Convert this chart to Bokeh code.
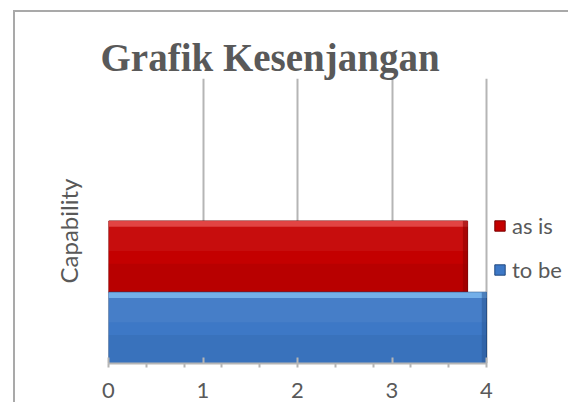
from bokeh.plotting import figure
from bokeh.models import Range1d, FixedTicker, Legend, LegendItem, Title
from bokeh.embed import file_html
from bokeh.resources import INLINE

# ---- data ----
series = ["as is", "to be"]
values = [3.8, 4.0]
positions = [1.5, 0.5]          # bar slots (as is above, to be below)
fills = ["#C40000", "#3D78C6"]
edges = ["#7A0000", "#21497F"]
lights = ["#E8504F", "#7DB8EE"]
darks = ["#8E0000", "#2C5A98"]
major_ticks = [0, 1, 2, 3, 4]
minor_ticks = [0, 0.4, 0.8, 1.2, 1.6, 2.0, 2.4, 2.8, 3.2, 3.6, 4.0]
title_text = "Grafik Kesenjangan"
y_title = "Capability"

TXT = "#595959"
GRID = "#b5b5b5"

# frame: 0..4 spans 378 px; frame continues to the right to host the legend
W, LEFT = 555, 93
FRAME_W = W - LEFT
x_end = 4 * FRAME_W / 378.0

p = figure(width=W, height=392, output_backend="svg", toolbar_location=None,
           x_range=Range1d(0, x_end), y_range=Range1d(0, 4),
           y_axis_location=None,
           min_border_left=LEFT, min_border_right=0, min_border_top=66,
           min_border_bottom=41)
p.margin = (10, 0, 0, 13)
p.styles = {"border-left": "2px solid #a9a9a9", "border-top": "2px solid #a9a9a9"}
p.outline_line_color = None
p.background_fill_color = "white"
p.border_fill_color = "white"

t = Title(text=title_text, text_font="Liberation Serif", text_font_style="bold",
          text_font_size="39px", text_color=TXT, align="left", offset=-8,
          standoff=0)
p.add_layout(t, "above")

yt = Title(text=y_title, text_font="Lato", text_font_style="normal",
           text_font_size="24px", text_color=TXT, align="left", offset=80,
           standoff=51)
p.add_layout(yt, "left")

# bars
renderers = []
for i, s in enumerate(series):
    r = p.hbar(y=[positions[i]], left=[0], right=[values[i]], height=1.0,
               fill_color=fills[i], line_color=edges[i], line_width=1)
    renderers.append(r)
    # bevel: lighter top strip, darker bottom strip and right edge
    p.hbar(y=[positions[i] + 0.46], left=[0], right=[values[i]], height=0.08,
           fill_color=lights[i], fill_alpha=0.85, line_color=None)
    p.hbar(y=[positions[i] + 0.25], left=[0], right=[values[i]], height=0.34,
           fill_color="white", fill_alpha=0.05, line_color=None)
    p.hbar(y=[positions[i] - 0.3], left=[0], right=[values[i]], height=0.4,
           fill_color=darks[i], fill_alpha=0.2, line_color=None)
    p.hbar(y=[positions[i]], left=[values[i] - 0.05], right=[values[i]], height=1.0,
           fill_color=darks[i], fill_alpha=0.55, line_color=None)

# x axis
xa = p.xaxis[0]
xa.ticker = FixedTicker(ticks=major_ticks, minor_ticks=minor_ticks)
xa.bounds = (0, 4)
xa.axis_line_color = GRID
xa.axis_line_width = 2
xa.major_tick_line_color = GRID
xa.major_tick_line_width = 2
xa.major_tick_in = 6
xa.major_tick_out = 0
xa.minor_tick_line_color = GRID
xa.minor_tick_line_width = 2
xa.minor_tick_in = 0
xa.minor_tick_out = 4
xa.major_label_text_font = "Lato"
xa.major_label_text_font_size = "22px"
xa.major_label_text_color = TXT
xa.major_label_standoff = 15

p.xgrid.ticker = FixedTicker(ticks=major_ticks)
p.xgrid.grid_line_color = GRID
p.xgrid.grid_line_width = 2
p.ygrid.grid_line_color = None

legend = Legend(items=[LegendItem(label=series[i], renderers=[renderers[i]]) for i in range(2)],
                location=(385, 80), orientation="vertical", padding=0, margin=0,
                spacing=17, glyph_width=13, glyph_height=13, label_height=26,
                label_standoff=6, label_text_font="Lato", label_text_font_size="22px",
                label_text_color=TXT, border_line_color=None, background_fill_alpha=0)
p.add_layout(legend, "center")

open("out.html", "w").write(file_html(p, INLINE))
